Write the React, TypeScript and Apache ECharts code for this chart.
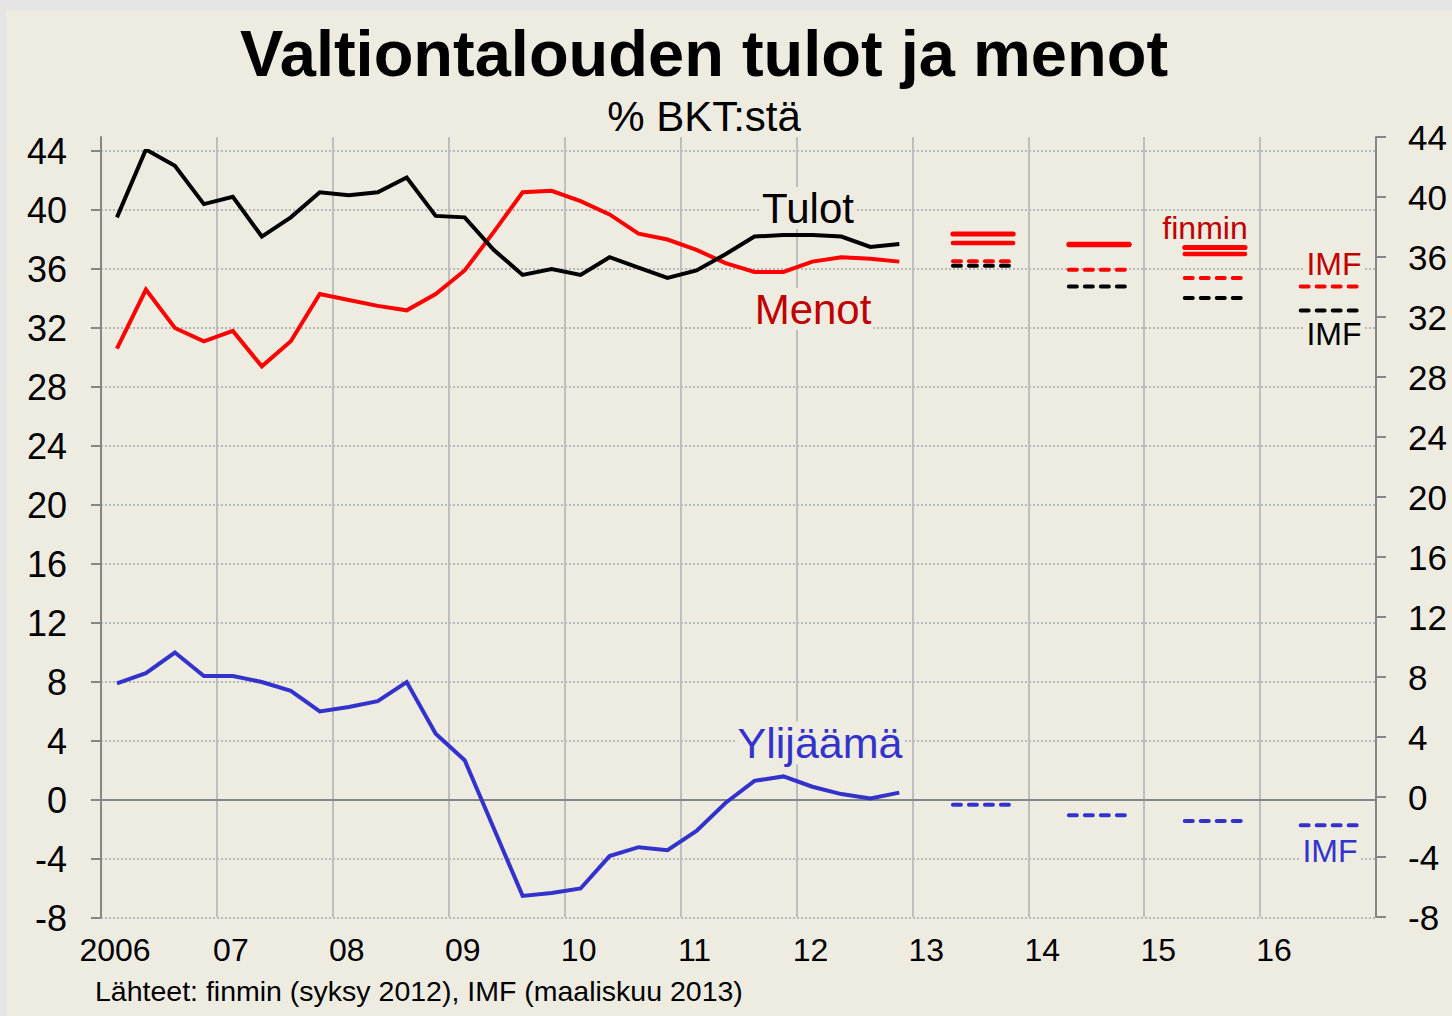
import React, { useEffect, useRef } from "react";
import * as echarts from "echarts";

const FONT = '"Liberation Sans", Arial, Helvetica, sans-serif';

// Quarterly data 2006Q1 - 2012Q4 (% of GDP)
const startYear = 2006;
const tulot = [
  39.5, 44.1, 43.0, 40.4, 40.9, 38.2, 39.5, 41.2, 41.0, 41.2, 42.2, 39.6, 39.5, 37.3,
  35.6, 36.0, 35.6, 36.8, 36.1, 35.4, 35.9, 37.0, 38.2, 38.3, 38.3, 38.2, 37.5, 37.7,
];
const menot = [
  30.6, 34.6, 32.0, 31.1, 31.8, 29.4, 31.1, 34.3, 33.9, 33.5, 33.2, 34.3, 35.9, 38.5,
  41.2, 41.3, 40.6, 39.7, 38.4, 38.0, 37.3, 36.4, 35.8, 35.8, 36.5, 36.8, 36.7, 36.5,
];
const ylijaama = [
  7.9, 8.6, 10.0, 8.4, 8.4, 8.0, 7.4, 6.0, 6.3, 6.7, 8.0, 4.5, 2.7, -1.9,
  -6.5, -6.3, -6.0, -3.8, -3.2, -3.4, -2.1, -0.2, 1.3, 1.6, 0.9, 0.4, 0.1, 0.5,
];

// Forecasts
const forecastYears = [2013, 2014, 2015, 2016];
const finminA = [38.37, 37.68, 37.46, null];
const finminB = [37.76, 37.62, 37.02, null];
const imfMenot = [36.52, 35.95, 35.39, 34.82];
const imfTulot = [36.22, 34.82, 34.03, 33.19];
const imfYlijaama = [-0.32, -1.04, -1.42, -1.72];

const xLabels = ["2006", "07", "08", "09", "10", "11", "12", "13", "14", "15", "16", ""];

const BLACK = "#000000";
const RED = "#FF0000";
const DARKRED = "#C00000";
const BLUE = "#3333CC";
const AXIS_GRAY = "#868686";
const BG = "#EEECE1";

function quarterPairs(values: number[]) {
  return values.map((v, i) => [startYear + (i + 0.55) / 4, v]);
}

function segmentSeries(name: string, values: (number | null)[], color: string, width: number, dashed: boolean) {
  const out: any[] = [];
  values.forEach((v, i) => {
    if (v === null) return;
    const y = forecastYears[i];
    out.push({
      name: name + "-" + y,
      type: "line",
      xAxisIndex: 0,
      yAxisIndex: 0,
      symbol: "none",
      silent: true,
      z: 3,
      lineStyle: {
        color,
        width,
        type: dashed ? [8, 8] : "solid",
        cap: "round",
      },
      data: [
        [y + 0.35, v],
        [y + 0.87, v],
      ],
    });
  });
  return out;
}

function label(text: string, x: number, y: number, size: number, color: string, opaque = true, align = "center", extra: any = {}) {
  return {
    type: "text",
    x,
    y,
    z: 100,
    silent: true,
    style: {
      text,
      font: `${size}px ${FONT}`,
      fill: color,
      align,
      verticalAlign: "middle",
      backgroundColor: opaque ? BG : undefined,
      padding: opaque ? [0, 2, 0, 2] : undefined,
      ...extra,
    },
  };
}

export default function App() {
  const ref = useRef<HTMLDivElement>(null);

  useEffect(() => {
    if (!ref.current) return;
    const chart = echarts.init(ref.current, null, { renderer: "svg" });

    const mainLine = (name: string, data: number[], color: string) => ({
      name,
      type: "line",
      xAxisIndex: 0,
      yAxisIndex: 0,
      symbol: "none",
      silent: true,
      z: 4,
      lineStyle: { color, width: 4, join: "miter" },
      data: quarterPairs(data),
    });

    const option: any = {
      animation: false,
      backgroundColor: "transparent",
      textStyle: { fontFamily: FONT },
      grid: [
        { left: 101, right: 76, top: 151, bottom: 98 },
        { left: 101, right: 76, top: 137, bottom: 99 },
      ],
      xAxis: [
        {
          type: "value",
          gridIndex: 0,
          min: 2006,
          max: 2017,
          interval: 1,
          axisLine: { show: false },
          axisTick: { show: false },
          splitLine: { show: false },
          axisLabel: {
            fontFamily: FONT,
            fontSize: 32,
            color: "#000",
            margin: 16,
            padding: [0, 0, 0, 28],
            formatter: (v: number) => xLabels[Math.round(v) - 2006] ?? "",
          },
        },
        {
          type: "value",
          gridIndex: 1,
          min: 2006,
          max: 2017,
          interval: 1,
          axisLine: { show: false },
          axisTick: { show: false },
          axisLabel: { show: false },
          splitLine: { show: true, lineStyle: { color: "#BEBEBE", width: 2 } },
        },
      ],
      yAxis: [
        {
          type: "value",
          gridIndex: 0,
          min: -8,
          max: 44,
          interval: 4,
          position: "left",
          axisLine: { show: false },
          axisTick: { show: true, length: 10, lineStyle: { color: AXIS_GRAY, width: 2 } },
          axisLabel: { fontFamily: FONT, fontSize: 36, color: "#000", margin: 34 },
          splitLine: { show: true, lineStyle: { type: "dotted", color: "#B8B8B8", width: 2 } },
        },
        {
          type: "value",
          gridIndex: 1,
          min: -8,
          max: 44,
          interval: 4,
          position: "right",
          axisLine: { show: true, lineStyle: { color: AXIS_GRAY, width: 2 } },
          axisTick: { show: true, length: 10, lineStyle: { color: AXIS_GRAY, width: 2 } },
          axisLabel: { fontFamily: FONT, fontSize: 35, color: "#000", margin: 32 },
          splitLine: { show: false },
        },
        {
          type: "value",
          gridIndex: 1,
          min: -8,
          max: 44,
          interval: 4,
          position: "left",
          axisLine: { show: true, onZero: false, lineStyle: { color: AXIS_GRAY, width: 2 } },
          axisTick: { show: false },
          axisLabel: { show: false },
          splitLine: { show: false },
        },
      ],
      series: [
        {
          ...mainLine("Ylijäämä", ylijaama, BLUE),
          markLine: {
            silent: true,
            symbol: "none",
            label: { show: false },
            lineStyle: { color: AXIS_GRAY, width: 2, type: "solid" },
            data: [{ yAxis: 0 }],
            z: 1,
          },
        },
        mainLine("Menot", menot, RED),
        mainLine("Tulot", tulot, BLACK),
        ...segmentSeries("finmin A", finminA, RED, 5, false),
        ...segmentSeries("finmin B", finminB, RED, 4.5, false),
        ...segmentSeries("IMF menot", imfMenot, RED, 4, true),
        ...segmentSeries("IMF tulot", imfTulot, BLACK, 4, true),
        ...segmentSeries("IMF ylijäämä", imfYlijaama, BLUE, 4, true),
      ],
      graphic: [
        {
          type: "text",
          x: 704,
          y: 53,
          style: {
            text: "Valtiontalouden tulot ja menot",
            font: `bold 65px ${FONT}`,
            fill: "#000",
            align: "center",
            verticalAlign: "middle",
          },
        },
        label("% BKT:stä", 704, 116, 42, "#000", false),
        label("Tulot", 808, 208, 42, BLACK),
        label("Menot", 813, 309, 42, DARKRED),
        label("Ylijäämä", 820, 743, 43, BLUE),
        label("finmin", 1205, 228, 32, DARKRED),
        label("IMF", 1334, 264, 32, DARKRED),
        label("IMF", 1334, 334, 32, BLACK),
        label("IMF", 1330, 851, 32, BLUE),
        label("Lähteet: finmin (syksy 2012), IMF (maaliskuu 2013)", 95, 991, 28.5, "#000", false, "left"),
      ],
    };

    chart.setOption(option);
    return () => chart.dispose();
  }, []);

  return (
    <div
      style={{
        position: "fixed",
        left: 0,
        top: 0,
        width: 1452,
        height: 1016,
        background: "#E4E5E4",
        overflow: "hidden",
      }}
    >
      <div
        style={{
          position: "absolute",
          left: 6,
          top: 10,
          right: 0,
          bottom: 0,
          background: BG,
        }}
      />
      <div ref={ref} style={{ position: "absolute", left: 0, top: 0, width: 1452, height: 1016 }} />
    </div>
  );
}
